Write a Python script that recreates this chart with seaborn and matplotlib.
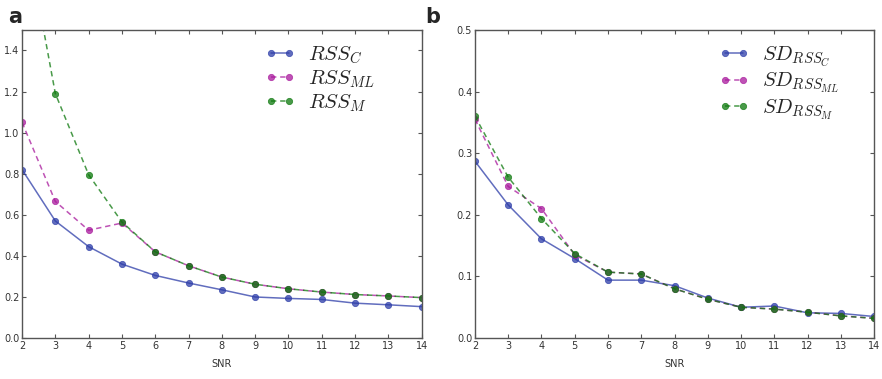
import numpy as np
import pandas as pd
import matplotlib
matplotlib.use('Agg')
import matplotlib.pyplot as plt
import seaborn as sns

snr = [2, 3, 4, 5, 6, 7, 8, 9, 10, 11, 12, 13, 14]

# panel a
rss_c = [0.82, 0.57, 0.445, 0.36, 0.305, 0.268, 0.235, 0.20, 0.193, 0.188, 0.17, 0.162, 0.153]
rss_ml = [1.05, 0.665, 0.525, 0.56, 0.42, 0.352, 0.297, 0.262, 0.24, 0.224, 0.212, 0.205, 0.197]
rss_m = [2.07, 1.19, 0.795, 0.565, 0.42, 0.352, 0.297, 0.262, 0.24, 0.224, 0.212, 0.205, 0.197]

# panel b
sd_c = [0.287, 0.216, 0.161, 0.129, 0.094, 0.094, 0.085, 0.065, 0.050, 0.052, 0.041, 0.040, 0.035]
sd_ml = [0.355, 0.246, 0.210, 0.135, 0.107, 0.104, 0.080, 0.063, 0.050, 0.047, 0.042, 0.036, 0.032]
sd_m = [0.360, 0.261, 0.194, 0.137, 0.107, 0.104, 0.080, 0.063, 0.050, 0.047, 0.042, 0.036, 0.032]

labels_a = [r'$RSS_C$', r'$RSS_{ML}$', r'$RSS_M$']
labels_b = [r'$SD_{RSS_C}$', r'$SD_{RSS_{ML}}$', r'$SD_{RSS_M}$']

colors = ['#2c3ca8', '#a8189c', '#0c780c']
styles = ['-', '--', '--']

sns.set_style('ticks')
plt.rcParams['xtick.direction'] = 'in'
plt.rcParams['ytick.direction'] = 'in'
plt.rcParams['mathtext.fontset'] = 'cm'

fig = plt.figure(figsize=(8.82, 3.79), dpi=100)
ax_a = fig.add_axes([0.025, 0.108, 0.453, 0.813])
ax_b = fig.add_axes([0.5385, 0.108, 0.4525, 0.813])


def draw(ax, series, labels, ylim, yticks, anchor):
    for y, lab, c, ls in zip(series, labels, colors, styles):
        sns.lineplot(x=snr, y=y, ax=ax, color=c, linestyle=ls, marker='o',
                     markersize=4.5, markeredgecolor=c, markeredgewidth=0.6,
                     lw=1.1, alpha=0.75, label=lab, legend=False)
    for ln, ls in zip(ax.get_lines(), styles):
        if ls == '--':
            ln.set_dashes((3.5, 2.5))
    ax.set_xlim(2, 14)
    ax.set_ylim(*ylim)
    ax.set_xticks(snr)
    ax.set_yticks(yticks)
    ax.tick_params(top=True, right=True, labelsize=7, length=3, color='#555555',
                   labelcolor='#333333', pad=2)
    for s in ax.spines.values():
        s.set_color('#555555')
        s.set_linewidth(1.0)
    ax.set_xlabel('SNR', fontsize=7, color='#333333', labelpad=6)
    ax.legend(handles=ax.get_lines(), labels=labels, numpoints=2, frameon=False,
              loc='upper right', fontsize=15, handlelength=1.5, handletextpad=0.6,
              borderaxespad=0.3, labelspacing=0.12, bbox_to_anchor=anchor)


draw(ax_a, [rss_c, rss_ml, rss_m], labels_a, (0, 1.5),
     [0, 0.2, 0.4, 0.6, 0.8, 1.0, 1.2, 1.4], (0.92, 1.0))
draw(ax_b, [sd_c, sd_ml, sd_m], labels_b, (0, 0.5),
     [0, 0.1, 0.2, 0.3, 0.4, 0.5], (0.95, 1.0))

fig.text(0.009, 0.955, 'a', fontsize=15, fontweight='bold', va='center')
fig.text(0.482, 0.955, 'b', fontsize=15, fontweight='bold', va='center')

fig.savefig('out.png', dpi=100)
